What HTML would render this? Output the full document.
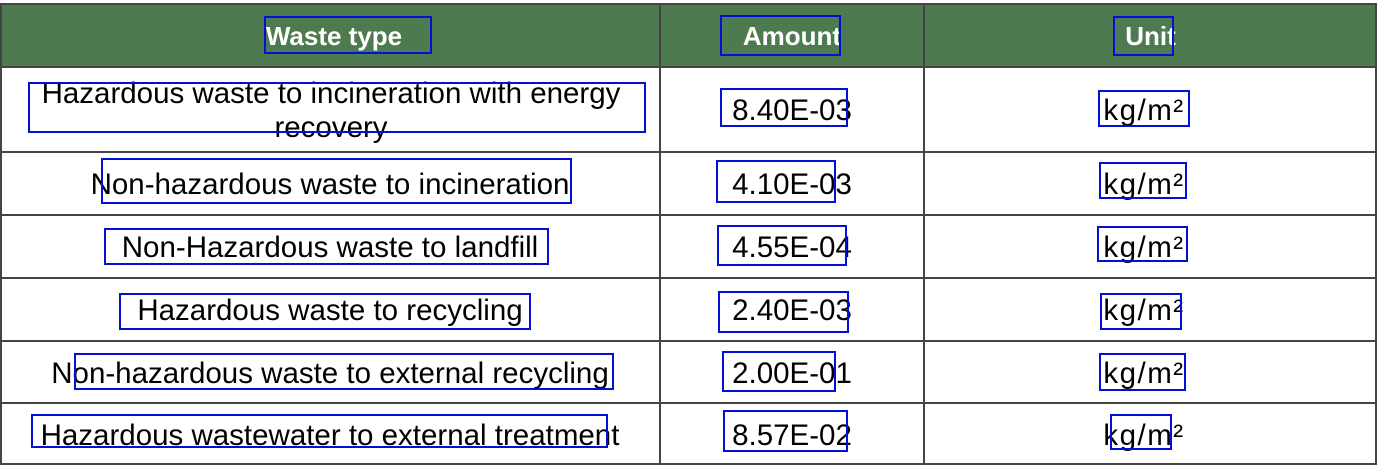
<!DOCTYPE html>
<html><head><meta charset="utf-8"><style>
body{margin:0;width:1377px;height:465px;overflow:hidden;background:#fff;font-family:"Liberation Sans",sans-serif;position:relative}
.c{position:absolute;display:flex;align-items:center;justify-content:center;text-align:center;font-size:29.5px;color:#000;line-height:34px;box-sizing:border-box;white-space:nowrap;padding-top:3px}
.h{color:#fff;font-weight:bold;font-size:26px;padding-top:0}
.u{letter-spacing:1.5px}
.ln{position:absolute;background:#444}
.b{position:absolute;border:2.5px solid #0010d8;box-sizing:border-box}
</style></head><body>
<div style="position:absolute;left:0;top:4px;width:1377px;height:63px;background:#4d7a4f"></div>
<div class="ln" style="left:0;top:3px;width:1377px;height:2px"></div>
<div class="ln" style="left:0;top:66px;width:1377px;height:2px"></div>
<div class="ln" style="left:0;top:151px;width:1377px;height:2px"></div>
<div class="ln" style="left:0;top:214px;width:1377px;height:2px"></div>
<div class="ln" style="left:0;top:277px;width:1377px;height:2px"></div>
<div class="ln" style="left:0;top:340px;width:1377px;height:2px"></div>
<div class="ln" style="left:0;top:402px;width:1377px;height:2px"></div>
<div class="ln" style="left:0;top:463px;width:1377px;height:2px"></div>
<div class="ln" style="left:0;top:3px;width:2px;height:462px"></div>
<div class="ln" style="left:659px;top:3px;width:2px;height:462px"></div>
<div class="ln" style="left:923px;top:3px;width:2px;height:462px"></div>
<div class="ln" style="left:1375px;top:3px;width:2px;height:462px"></div>

<div class="c h" style="left:0;top:4px;width:668px;height:63px">Waste type</div>
<div class="c h" style="left:660px;top:4px;width:264px;height:63px">Amount</div>
<div class="c h" style="left:924px;top:4px;width:453px;height:63px">Unit</div>

<div class="c" style="left:0;top:75px;width:662px;height:68px">Hazardous waste to incineration with energy<br>recovery</div>
<div class="c" style="left:660px;top:67px;width:264px;height:85px">8.40E-03</div>
<div class="c u" style="left:924px;top:67px;width:440px;height:85px">kg/m²</div>

<div class="c" style="left:0;top:152px;width:660px;height:63px">Non-hazardous waste to incineration</div>
<div class="c" style="left:660px;top:152px;width:264px;height:63px">4.10E-03</div>
<div class="c u" style="left:924px;top:152px;width:440px;height:63px">kg/m²</div>

<div class="c" style="left:0;top:215px;width:660px;height:63px">Non-Hazardous waste to landfill</div>
<div class="c" style="left:660px;top:215px;width:264px;height:63px">4.55E-04</div>
<div class="c u" style="left:924px;top:215px;width:440px;height:63px">kg/m²</div>

<div class="c" style="left:0;top:278px;width:660px;height:63px">Hazardous waste to recycling</div>
<div class="c" style="left:660px;top:278px;width:264px;height:63px">2.40E-03</div>
<div class="c u" style="left:924px;top:278px;width:440px;height:63px">kg/m²</div>

<div class="c" style="left:0;top:341px;width:660px;height:62px">Non-hazardous waste to external recycling</div>
<div class="c" style="left:660px;top:341px;width:264px;height:62px">2.00E-01</div>
<div class="c u" style="left:924px;top:341px;width:440px;height:62px">kg/m²</div>

<div class="c" style="left:0;top:403px;width:660px;height:62px">Hazardous wastewater to external treatment</div>
<div class="c" style="left:660px;top:403px;width:264px;height:62px">8.57E-02</div>
<div class="c u" style="left:924px;top:403px;width:440px;height:62px">kg/m²</div>

<div class="b" style="left:264px;top:16px;width:168px;height:38px"></div>
<div class="b" style="left:720px;top:15px;width:121px;height:41px"></div>
<div class="b" style="left:1113px;top:16px;width:61px;height:40px"></div>
<div class="b" style="left:28px;top:82px;width:618px;height:51px"></div>
<div class="b" style="left:720px;top:88px;width:128px;height:39px"></div>
<div class="b" style="left:1098px;top:90px;width:92px;height:37px"></div>
<div class="b" style="left:101px;top:158px;width:471px;height:46px"></div>
<div class="b" style="left:716px;top:160px;width:120px;height:43px"></div>
<div class="b" style="left:1099px;top:162px;width:88px;height:37px"></div>
<div class="b" style="left:104px;top:228px;width:445px;height:37px"></div>
<div class="b" style="left:717px;top:225px;width:130px;height:41px"></div>
<div class="b" style="left:1097px;top:226px;width:91px;height:36px"></div>
<div class="b" style="left:119px;top:293px;width:412px;height:37px"></div>
<div class="b" style="left:718px;top:291px;width:131px;height:42px"></div>
<div class="b" style="left:1100px;top:293px;width:82px;height:37px"></div>
<div class="b" style="left:74px;top:353px;width:540px;height:37px"></div>
<div class="b" style="left:722px;top:351px;width:114px;height:41px"></div>
<div class="b" style="left:1099px;top:353px;width:87px;height:38px"></div>
<div class="b" style="left:31px;top:414px;width:577px;height:34px"></div>
<div class="b" style="left:723px;top:410px;width:125px;height:42px"></div>
<div class="b" style="left:1110px;top:414px;width:62px;height:36px"></div>
</body></html>
